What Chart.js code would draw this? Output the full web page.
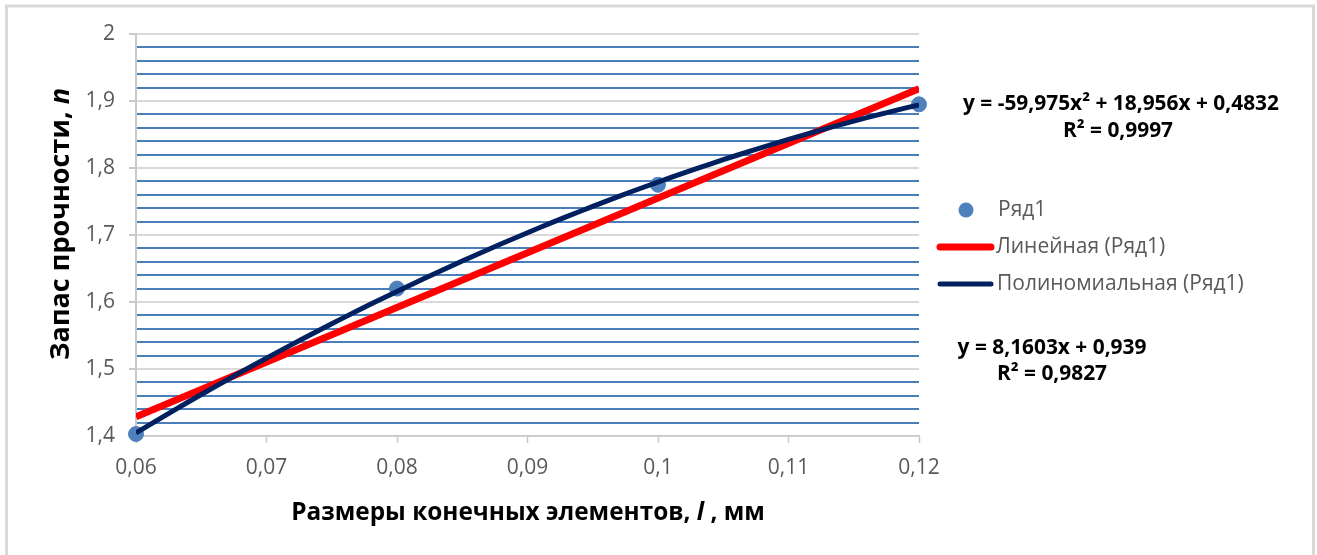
<!DOCTYPE html>
<html lang="ru">
<head>
<meta charset="utf-8">
<title>Запас прочности</title>
<script src="https://cdn.jsdelivr.net/npm/chart.js@4/dist/chart.umd.min.js"></script>
<style>
  html, body { margin: 0; padding: 0; background: #ffffff; }
  #wrap { width: 1317px; height: 555px; position: relative; }
</style>
</head>
<body>
<div id="wrap"><canvas id="c" width="1317" height="555"></canvas></div>
<script>
// Measured points: element size l (mm) vs safety factor n
const sizes = [0.06, 0.08, 0.10, 0.12];
const safety = [1.403, 1.62, 1.775, 1.895];

// Trendline coefficients as printed next to the plot
const linearCoef = [8.1603, 0.939];            // y = a*x + b
const polyCoef = [-59.975, 18.956, 0.4832];    // y = a*x^2 + b*x + c

// Axis range and tick steps
const xRange = [0.06, 0.12];
const yRange = [1.4, 2.0];
const xStep = 0.01;
const yMajorStep = 0.1;
const yMinorStep = 0.02;

// Text
const seriesName = 'Ряд1';
const linearName = 'Линейная (Ряд1)';
const polyName = 'Полиномиальная (Ряд1)';
const polyEq = ['y = -59,975x² + 18,956x + 0,4832', 'R² = 0,9997'];
const linearEq = ['y = 8,1603x + 0,939', 'R² = 0,9827'];
const xTitleParts = [['Размеры конечных элементов, ', false], ['l', true], [' , мм', false]];
const yTitleParts = [['Запас прочности, ', false], ['n', true]];

const FONT = '"Open Sans", "Liberation Sans", "DejaVu Sans", sans-serif';
const POINT_COLOR = '#4f81bd';
const LINEAR_COLOR = '#ff0000';
const POLY_COLOR = '#002060';
const MINOR_GRID = '#4a7ebb';
const MAJOR_GRID = '#d9d9d9';
const AXIS_COLOR = '#c9c9c9';
const TICK_TEXT = '#595959';

const fmt = v => String(v).replace('.', ',');
const isMajor = v => Math.abs(v / yMajorStep - Math.round(v / yMajorStep)) < 1e-6;

// Trendline paths evaluated from the printed equations
const linearLine = xRange.map(x => ({ x, y: linearCoef[0] * x + linearCoef[1] }));
const polyLine = [];
for (let i = 0; i <= 60; i++) {
  const x = xRange[0] + (xRange[1] - xRange[0]) * i / 60;
  polyLine.push({ x, y: polyCoef[0] * x * x + polyCoef[1] * x + polyCoef[2] });
}

// Font size that makes a run of text span the given width
function fitSize(ctx, parts, weight, width) {
  let w = 0;
  for (const [t, it] of parts) {
    ctx.font = (it ? 'italic ' : '') + weight + ' 100px ' + FONT;
    w += ctx.measureText(t).width;
  }
  return 100 * width / w;
}

function drawRuns(ctx, parts, weight, size, cx, baseline) {
  let total = 0;
  const widths = parts.map(([t, it]) => {
    ctx.font = (it ? 'italic ' : '') + weight + ' ' + size + 'px ' + FONT;
    const w = ctx.measureText(t).width;
    total += w;
    return w;
  });
  let x = cx - total / 2;
  ctx.textAlign = 'left';
  ctx.textBaseline = 'alphabetic';
  parts.forEach(([t, it], i) => {
    ctx.font = (it ? 'italic ' : '') + weight + ' ' + size + 'px ' + FONT;
    ctx.fillText(t, x, baseline);
    x += widths[i];
  });
}

// Frame, axis titles, legend and equation labels
const decorations = {
  id: 'decorations',
  beforeDraw(chart) {
    const ctx = chart.ctx;
    ctx.save();
    ctx.fillStyle = '#ffffff';
    ctx.fillRect(0, 0, chart.width, chart.height);
    ctx.strokeStyle = '#d9d9d9';
    ctx.lineWidth = 3;
    ctx.strokeRect(6.5, 6, 1307, 600);
    ctx.restore();
  },
  afterDraw(chart) {
    const ctx = chart.ctx;
    ctx.save();
    ctx.fillStyle = '#000000';

    // x title
    const xs = fitSize(ctx, xTitleParts, 'bold', 474);
    drawRuns(ctx, xTitleParts, 'bold', xs, 528, 520);

    // y title, rotated
    const ys = fitSize(ctx, yTitleParts, 'bold', 272);
    ctx.save();
    ctx.translate(69, 224);
    ctx.rotate(-Math.PI / 2);
    drawRuns(ctx, yTitleParts, 'bold', ys, 0, 0);
    ctx.restore();

    // equations
    const es = fitSize(ctx, [[linearEq[0], false]], 'bold', 189);
    ctx.fillStyle = '#000000';
    drawRuns(ctx, [[polyEq[0], false]], 'bold', es, 1121, 110);
    drawRuns(ctx, [[polyEq[1], false]], 'bold', es, 1118, 137);
    drawRuns(ctx, [[linearEq[0], false]], 'bold', es, 1052, 354);
    drawRuns(ctx, [[linearEq[1], false]], 'bold', es, 1052, 380);

    // legend
    const ls = 21;
    ctx.font = ls + 'px ' + FONT;
    ctx.fillStyle = TICK_TEXT;
    ctx.textAlign = 'left';
    ctx.textBaseline = 'middle';
    ctx.fillText(seriesName, 998, 210);
    ctx.fillText(linearName, 996, 247);
    ctx.fillText(polyName, 997, 284);

    ctx.fillStyle = POINT_COLOR;
    ctx.beginPath();
    ctx.arc(966, 210, 7.5, 0, Math.PI * 2);
    ctx.fill();

    ctx.lineCap = 'round';
    ctx.strokeStyle = LINEAR_COLOR;
    ctx.lineWidth = 7;
    ctx.beginPath(); ctx.moveTo(940, 247); ctx.lineTo(991, 247); ctx.stroke();
    ctx.strokeStyle = POLY_COLOR;
    ctx.lineWidth = 5;
    ctx.beginPath(); ctx.moveTo(940, 284); ctx.lineTo(991, 284); ctx.stroke();
    ctx.restore();
  }
};

new Chart(document.getElementById('c'), {
  type: 'scatter',
  data: {
    datasets: [
      {
        label: polyName,
        type: 'line',
        data: polyLine,
        borderColor: POLY_COLOR,
        borderWidth: 5,
        pointRadius: 0,
        fill: false,
        tension: 0,
        order: 1
      },
      {
        label: linearName,
        type: 'line',
        data: linearLine,
        borderColor: LINEAR_COLOR,
        borderWidth: 7,
        pointRadius: 0,
        fill: false,
        tension: 0,
        order: 2
      },
      {
        label: seriesName,
        data: sizes.map((x, i) => ({ x, y: safety[i] })),
        backgroundColor: POINT_COLOR,
        borderColor: POINT_COLOR,
        pointRadius: 7.5,
        pointHoverRadius: 7.5,
        clip: false,
        order: 3
      }
    ]
  },
  options: {
    responsive: false,
    animation: false,
    events: [],
    layout: { padding: { left: 0, top: 34, right: 398, bottom: 0 } },
    plugins: { legend: { display: false }, tooltip: { enabled: false } },
    scales: {
      x: {
        type: 'linear',
        min: xRange[0],
        max: xRange[1],
        afterFit(s) { s.height = 119; },
        ticks: {
          stepSize: xStep,
          autoSkip: false,
          maxRotation: 0,
          padding: 12,
          color: TICK_TEXT,
          font: { family: FONT, size: 21 },
          callback: v => fmt(Math.round(v * 100) / 100)
        },
        grid: { drawOnChartArea: false, tickLength: 7, tickColor: AXIS_COLOR, tickWidth: 1.5 },
        border: { color: AXIS_COLOR, width: 1.5 }
      },
      y: {
        type: 'linear',
        min: yRange[0],
        max: yRange[1],
        afterFit(s) { s.width = 136; },
        ticks: {
          stepSize: yMinorStep,
          autoSkip: false,
          padding: 14,
          color: TICK_TEXT,
          font: { family: FONT, size: 21 },
          callback: v => isMajor(v) ? fmt(Math.round(v * 10) / 10) : ''
        },
        grid: {
          tickLength: 7,
          color: c => isMajor(c.tick.value) ? MAJOR_GRID : MINOR_GRID,
          lineWidth: 2,
          tickColor: c => isMajor(c.tick.value) ? AXIS_COLOR : 'rgba(0,0,0,0)',
          tickWidth: 2
        },
        border: { color: AXIS_COLOR, width: 2 }
      }
    }
  },
  plugins: [decorations]
});
</script>
</body>
</html>
